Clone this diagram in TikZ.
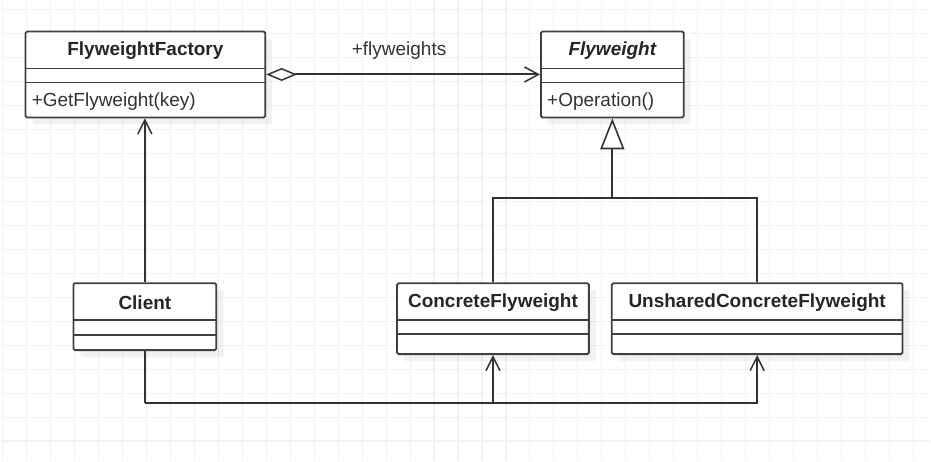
\documentclass[tikz,border=0pt]{standalone}
\usepackage{fontspec}
\setmainfont{Liberation Sans}
\usetikzlibrary{arrows.meta,positioning,shadows}

\begin{document}
\begin{tikzpicture}[x=1pt,y=-1pt,
    cls/.style={draw=black!75, line width=1.8pt, fill=white, rounded corners=1.5pt,
        inner sep=0pt, drop shadow={shadow xshift=7pt, shadow yshift=-7pt, fill=black, opacity=0.05}},
    ttl/.style={inner sep=0pt, minimum height=40pt, text=black!85,
        font=\fontsize{19}{22}\selectfont\bfseries},
    mth/.style={inner sep=0pt, text=black!80, font=\fontsize{19}{22}\selectfont},
    sep/.style={draw=black!75, line width=1.8pt},
    conn/.style={draw=black!80, line width=2pt},
    dep/.style={conn, -{Straight Barb[length=14pt, width=14pt, line width=1.5pt]}},
    aggr/.style={conn, {Diamond[open, length=31pt, width=13pt, line width=1.5pt]}-{Straight Barb[length=14pt, width=15pt, line width=1.5pt]}},
    inherit/.style={conn, -{Triangle[open, length=31pt, width=24pt, line width=1.6pt]}}]
    % Draw background and grid
    \fill[white] (0,0) rectangle (931,461);
    \foreach \gx in {0,...,38}
        \draw[black!5, line width=1.1pt] ({2+24*\gx},0) -- ({2+24*\gx},461);
    \foreach \gy in {0,...,18}
        \draw[black!5, line width=1.1pt] (0,{9+24*\gy}) -- (931,{9+24*\gy});
    \useasboundingbox (0,0) rectangle (931,461);

    % Classes
    \node[cls, minimum width=240pt, minimum height=86pt] (ff) at (145,74) {};
    \node[ttl, below=0pt of ff.north] (fft) {FlyweightFactory};
    \draw[sep] ([yshift=-38pt]ff.north west) -- ([yshift=-38pt]ff.north east);
    \draw[sep] ([yshift=-52pt]ff.north west) -- ([yshift=-52pt]ff.north east);
    \node[mth, anchor=west] (ffm) at ([xshift=7pt, yshift=17pt]ff.south west) {+GetFlyweight(key)};

    \node[cls, minimum width=143pt, minimum height=86pt] (fw) at (612.5,74) {};
    \node[ttl, below=0pt of fw.north] (fwt) {\itshape Flyweight};
    \draw[sep] ([yshift=-38pt]fw.north west) -- ([yshift=-38pt]fw.north east);
    \draw[sep] ([yshift=-52pt]fw.north west) -- ([yshift=-52pt]fw.north east);
    \node[mth, anchor=west] (fwm) at ([xshift=7pt, yshift=17pt]fw.south west) {+Operation()};

    \node[cls, minimum width=143pt, minimum height=67pt] (cl) at (144.5,316.5) {};
    \node[ttl, below=0pt of cl.north] (clt) {Client};
    \draw[sep] ([yshift=-38pt]cl.north west) -- ([yshift=-38pt]cl.north east);
    \draw[sep] ([yshift=-53pt]cl.north west) -- ([yshift=-53pt]cl.north east);

    \node[cls, minimum width=192pt, minimum height=71pt] (cf) at (493,318.5) {};
    \node[ttl, below=0pt of cf.north] (cft) {ConcreteFlyweight};
    \draw[sep] ([yshift=-38pt]cf.north west) -- ([yshift=-38pt]cf.north east);
    \draw[sep] ([yshift=-52pt]cf.north west) -- ([yshift=-52pt]cf.north east);

    \node[cls, minimum width=291pt, minimum height=71pt] (uf) at (757.5,318.5) {};
    \node[ttl, below=0pt of uf.north] (uft) {UnsharedConcreteFlyweight};
    \draw[sep] ([yshift=-38pt]uf.north west) -- ([yshift=-38pt]uf.north east);
    \draw[sep] ([yshift=-52pt]uf.north west) -- ([yshift=-52pt]uf.north east);

    % Aggregation
    \draw[aggr] (ff.east) -- (fw.west);
    \node[mth] (agl) at (399,50) {+flyweights};

    % Generalization
    \coordinate (join) at (612.5,198);
    \draw[inherit] (join) -- (fw.south);
    \draw[conn] (cf.north) |- (join) -| (uf.north);

    % Dependencies from Client
    \coordinate (bus) at (cl.south |- 0,403);
    \draw[dep] (cl.north) -- (cl.north |- ff.south);
    \draw[conn] (cl.south) -- (bus);
    \draw[dep] (bus) -| (cf.south);
    \draw[dep] (bus) -| (uf.south);
\end{tikzpicture}
\end{document}
